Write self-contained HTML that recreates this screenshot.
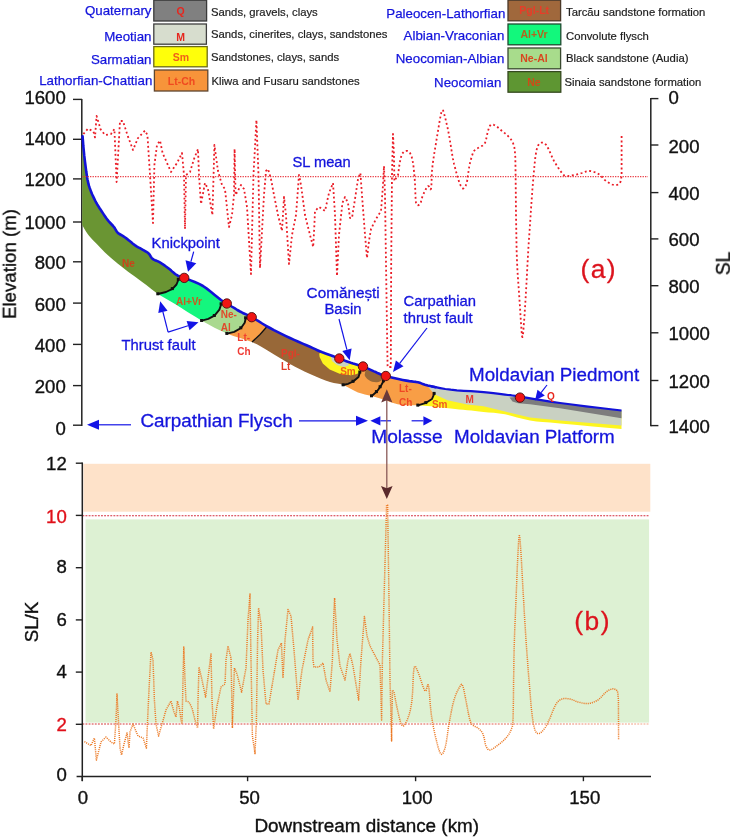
<!DOCTYPE html>
<html><head><meta charset="utf-8"><title>Figure</title>
<style>html,body{margin:0;padding:0;background:#fff}body{width:730px;height:837px;overflow:hidden;font-family:"Liberation Sans", sans-serif}svg,svg text{font-family:"Liberation Sans", sans-serif}</style>
</head><body>
<svg width="730" height="837" viewBox="0 0 730 837" style="display:block">
<defs><filter id="idf" x="0" y="0" width="730" height="837" filterUnits="userSpaceOnUse"><feOffset dx="0" dy="0"/></filter></defs><g filter="url(#idf)">
<rect width="730" height="837" fill="#fff"/>
<text x="151.5" y="15" text-anchor="end" font-size="13.3" fill="#1414dc" stroke="#1414dc" stroke-width="0.25">Quaternary</text><rect x="153.8" y="0.2" width="52.8" height="20.8" fill="#808080" stroke="#3a3a3a" stroke-width="1.3"/><text x="180.5" y="15.4" text-anchor="middle" font-size="10.5" font-weight="bold" fill="#e6261e">Q</text><text x="211" y="16" font-size="11.3" fill="#1e1e1e" stroke="#1e1e1e" stroke-width="0.2">Sands, gravels, clays</text>
<text x="151.5" y="41" text-anchor="end" font-size="13.3" fill="#1414dc" stroke="#1414dc" stroke-width="0.25">Meotian</text><rect x="153.8" y="24" width="52.6" height="20.2" fill="#d7ddce" stroke="#3f3f3f" stroke-width="1.3"/><text x="180.5" y="41.4" text-anchor="middle" font-size="10.5" font-weight="bold" fill="#e6261e">M</text><text x="211" y="38.4" font-size="11.3" fill="#1e1e1e" stroke="#1e1e1e" stroke-width="0.2">Sands, cinerites, clays, sandstones</text>
<text x="151.5" y="64" text-anchor="end" font-size="13.3" fill="#1414dc" stroke="#1414dc" stroke-width="0.25">Sarmatian</text><rect x="153.8" y="46.6" width="53.4" height="20.2" fill="#ffff0a" stroke="#6b6b18" stroke-width="1.3"/><text x="181" y="61" text-anchor="middle" font-size="10.5" font-weight="bold" fill="#f0601a">Sm</text><text x="211" y="61" font-size="11.3" fill="#1e1e1e" stroke="#1e1e1e" stroke-width="0.2">Sandstones, clays, sands</text>
<text x="152.3" y="85" text-anchor="end" font-size="13.3" fill="#1414dc" stroke="#1414dc" stroke-width="0.25">Lathorfian-Chattian</text><rect x="154.4" y="70" width="53.4" height="21" fill="#f7943a" stroke="#5e4630" stroke-width="1.3"/><text x="181.5" y="85" text-anchor="middle" font-size="10.5" font-weight="bold" fill="#f04a20">Lt-Ch</text><text x="211.5" y="85" font-size="11.3" fill="#1e1e1e" stroke="#1e1e1e" stroke-width="0.2">Kliwa and Fusaru sandstones</text>
<text x="505.3" y="17.6" text-anchor="end" font-size="13.3" fill="#1414dc" stroke="#1414dc" stroke-width="0.25">Paleocen-Lathorfian</text><rect x="508" y="0.2" width="52.6" height="20.6" fill="#a0683c" stroke="#4a3828" stroke-width="1.3"/><text x="534.2" y="13.6" text-anchor="middle" font-size="10.5" font-weight="bold" fill="#e83c28">Pgl-Lt</text><text x="566" y="16" font-size="11.3" fill="#1e1e1e" stroke="#1e1e1e" stroke-width="0.2">Tarcău sandstone formation</text>
<text x="504.4" y="40" text-anchor="end" font-size="13.3" fill="#1414dc" stroke="#1414dc" stroke-width="0.25">Albian-Vraconian</text><rect x="508" y="24" width="52.8" height="20.8" fill="#12f87c" stroke="#1e4a30" stroke-width="1.3"/><text x="534" y="38.4" text-anchor="middle" font-size="10.5" font-weight="bold" fill="#b4641e">Al+Vr</text><text x="566" y="40" font-size="11.3" fill="#1e1e1e" stroke="#1e1e1e" stroke-width="0.2">Convolute flysch</text>
<text x="504.4" y="63" text-anchor="end" font-size="13.3" fill="#1414dc" stroke="#1414dc" stroke-width="0.25">Neocomian-Albian</text><rect x="508" y="48" width="52.6" height="20.8" fill="#a8dc8c" stroke="#3a4a30" stroke-width="1.3"/><text x="534" y="62" text-anchor="middle" font-size="10.5" font-weight="bold" fill="#d84820">Ne-Al</text><text x="566" y="62.4" font-size="11.3" fill="#1e1e1e" stroke="#1e1e1e" stroke-width="0.2">Black sandstone (Audia)</text>
<text x="501.3" y="87" text-anchor="end" font-size="13.3" fill="#1414dc" stroke="#1414dc" stroke-width="0.25">Neocomian</text><rect x="508" y="71.6" width="52.8" height="20.6" fill="#5e9632" stroke="#34481e" stroke-width="1.3"/><text x="534" y="86.4" text-anchor="middle" font-size="10.5" font-weight="bold" fill="#d04a18">Ne</text><text x="564.4" y="85.6" font-size="11.3" fill="#1e1e1e" stroke="#1e1e1e" stroke-width="0.2">Sinaia sandstone formation</text>
<line x1="81.8" y1="99" x2="81.8" y2="426" stroke="#222" stroke-width="1.5"/>
<line x1="73" y1="99.4" x2="82" y2="99.4" stroke="#222" stroke-width="1.4"/>
<text x="65.8" y="103.7" text-anchor="end" font-size="18.6" fill="#111" stroke="#111" stroke-width="0.35">1600</text>
<line x1="73" y1="139.3" x2="82" y2="139.3" stroke="#222" stroke-width="1.4"/>
<text x="65.8" y="144.9" text-anchor="end" font-size="18.6" fill="#111" stroke="#111" stroke-width="0.35">1400</text>
<line x1="73" y1="178.9" x2="82" y2="178.9" stroke="#222" stroke-width="1.4"/>
<text x="65.8" y="185.8" text-anchor="end" font-size="18.6" fill="#111" stroke="#111" stroke-width="0.35">1200</text>
<line x1="73" y1="222.0" x2="82" y2="222.0" stroke="#222" stroke-width="1.4"/>
<text x="65.8" y="228.8" text-anchor="end" font-size="18.6" fill="#111" stroke="#111" stroke-width="0.35">1000</text>
<line x1="73" y1="261.8" x2="82" y2="261.8" stroke="#222" stroke-width="1.4"/>
<text x="65.8" y="269.1" text-anchor="end" font-size="18.6" fill="#111" stroke="#111" stroke-width="0.35">800</text>
<line x1="73" y1="303.1" x2="82" y2="303.1" stroke="#222" stroke-width="1.4"/>
<text x="65.8" y="311.0" text-anchor="end" font-size="18.6" fill="#111" stroke="#111" stroke-width="0.35">600</text>
<line x1="73" y1="344.4" x2="82" y2="344.4" stroke="#222" stroke-width="1.4"/>
<text x="65.8" y="352.0" text-anchor="end" font-size="18.6" fill="#111" stroke="#111" stroke-width="0.35">400</text>
<line x1="73" y1="385.6" x2="82" y2="385.6" stroke="#222" stroke-width="1.4"/>
<text x="65.8" y="392.6" text-anchor="end" font-size="18.6" fill="#111" stroke="#111" stroke-width="0.35">200</text>
<line x1="73" y1="425.2" x2="82" y2="425.2" stroke="#222" stroke-width="1.4"/>
<text x="65.8" y="435.1" text-anchor="end" font-size="18.6" fill="#111" stroke="#111" stroke-width="0.35">0</text>
<text transform="translate(15.8,264) rotate(-90)" text-anchor="middle" font-size="18.7" fill="#111" stroke="#111" stroke-width="0.35">Elevation (m)</text>
<line x1="650.8" y1="98" x2="650.8" y2="426.3" stroke="#222" stroke-width="1.5"/>
<line x1="650.8" y1="98.6" x2="658.4" y2="98.6" stroke="#222" stroke-width="1.4"/>
<text x="668.5" y="104.3" font-size="18.6" fill="#111" stroke="#111" stroke-width="0.35">0</text>
<line x1="650.8" y1="145.0" x2="658.4" y2="145.0" stroke="#222" stroke-width="1.4"/>
<text x="668.5" y="152.6" font-size="18.6" fill="#111" stroke="#111" stroke-width="0.35">200</text>
<line x1="650.8" y1="192.6" x2="658.4" y2="192.6" stroke="#222" stroke-width="1.4"/>
<text x="668.5" y="199.5" font-size="18.6" fill="#111" stroke="#111" stroke-width="0.35">400</text>
<line x1="650.8" y1="238.9" x2="658.4" y2="238.9" stroke="#222" stroke-width="1.4"/>
<text x="668.5" y="245.5" font-size="18.6" fill="#111" stroke="#111" stroke-width="0.35">600</text>
<line x1="650.8" y1="285.7" x2="658.4" y2="285.7" stroke="#222" stroke-width="1.4"/>
<text x="668.5" y="293.2" font-size="18.6" fill="#111" stroke="#111" stroke-width="0.35">800</text>
<line x1="650.8" y1="332.8" x2="658.4" y2="332.8" stroke="#222" stroke-width="1.4"/>
<text x="668.5" y="340.3" font-size="18.6" fill="#111" stroke="#111" stroke-width="0.35">1000</text>
<line x1="650.8" y1="380.5" x2="658.4" y2="380.5" stroke="#222" stroke-width="1.4"/>
<text x="668.5" y="387.5" font-size="18.6" fill="#111" stroke="#111" stroke-width="0.35">1200</text>
<line x1="650.8" y1="425.6" x2="658.4" y2="425.6" stroke="#222" stroke-width="1.4"/>
<text x="668.5" y="433.1" font-size="18.6" fill="#111" stroke="#111" stroke-width="0.35">1400</text>
<text transform="translate(729.9,263.5) rotate(-90)" text-anchor="middle" font-size="19.4" fill="#111" stroke="#111" stroke-width="0.35">SL</text>
<polygon points="82.2,136.3 82.6,136.3 82.7,138.0 82.9,140.3 83.1,143.1 83.3,146.0 83.6,149.0 83.9,152.0 84.2,155.2 84.6,158.5 85.0,161.8 85.4,165.0 85.8,168.2 86.2,171.3 86.7,174.4 87.1,177.4 87.6,180.0 88.1,182.2 88.5,184.2 89.0,185.9 89.6,187.7 90.3,189.6 91.1,191.7 92.0,194.0 93.0,196.2 94.1,198.4 95.1,200.5 96.1,202.4 97.1,204.2 98.2,205.9 99.3,207.7 100.5,209.5 101.8,211.5 103.2,213.6 104.6,215.7 106.0,217.8 107.4,219.7 108.8,221.4 110.3,223.0 111.7,224.5 113.1,226.0 114.2,227.3 115.0,228.5 115.6,229.6 116.2,230.7 116.8,231.7 117.7,232.7 118.9,233.7 120.3,234.5 121.9,235.4 123.5,236.4 125.2,237.5 127.0,238.9 129.0,240.5 131.0,242.1 132.9,243.7 134.8,245.1 136.6,246.3 138.3,247.3 140.0,248.2 141.6,249.1 143.0,249.9 144.3,250.6 145.5,251.3 146.5,251.9 147.5,252.5 148.5,253.3 149.4,254.3 150.1,255.4 150.8,256.7 151.6,257.8 152.6,258.8 153.8,259.6 155.1,260.2 156.5,260.8 158.0,261.4 159.5,262.2 161.1,263.1 162.7,264.2 164.4,265.3 166.0,266.5 167.7,267.7 169.4,269.1 171.2,270.6 172.9,272.1 174.5,273.4 175.9,274.5 177.0,275.2 177.8,275.7 178.5,276.0 179.2,276.3 180.0,276.6 180.6,276.8 181.0,276.9 181.5,276.9 182.4,277.2 184.2,277.9 184.2,277.9 184.2,277.9 178.5,279.5 176.5,284.5 172.5,288.8 166.0,292.0 158.0,294.0 158.0,294.0 154.6,291.6 151.6,289.3 148.8,287.0 146.0,284.8 143.2,282.7 140.5,280.8 137.8,278.8 134.8,276.6 131.6,274.2 128.1,271.7 124.6,269.0 121.1,266.3 117.6,263.4 114.0,260.5 110.5,257.5 107.4,254.7 104.7,252.2 102.3,249.8 100.1,247.4 97.8,245.0 95.3,242.5 92.8,239.9 90.3,237.3 88.2,234.8 86.3,232.1 84.6,229.3 83.2,226.8 82.2,225.0 82.2,225.0 82.4,161.0" fill="#6a9533"/>
<polygon points="184.2,277.9 187.0,279.0 190.7,280.4 194.8,282.0 199.1,283.9 203.0,286.0 206.8,288.6 210.8,291.7 214.7,294.9 218.2,297.8 221.0,300.0 222.8,301.3 223.8,301.9 224.5,302.3 225.4,302.7 226.8,303.5 226.8,303.5 226.8,303.5 221.3,304.0 219.4,309.6 214.5,315.7 208.3,318.8 201.8,320.7 201.8,320.7 195.0,316.6 187.9,312.2 181.0,307.8 175.0,304.0 169.9,301.0 165.6,298.5 161.7,296.3 158.0,294.0 158.0,294.0 166.0,292.0 172.5,288.8 176.5,284.5 178.5,279.5 184.2,277.9" fill="#14f67e"/>
<polygon points="226.8,303.5 229.0,304.8 231.6,306.5 234.5,308.2 237.3,310.0 240.0,311.5 242.3,312.7 244.5,313.7 246.6,314.7 249.0,315.8 251.7,317.2 251.7,317.2 251.7,317.2 245.8,318.0 244.7,322.8 241.0,328.0 234.2,331.8 227.0,333.6 227.0,333.6 220.8,330.8 214.5,327.7 208.2,324.3 201.8,320.7 201.8,320.7 208.3,318.8 214.5,315.7 219.4,309.6 221.3,304.0 226.8,303.5" fill="#a9d98f"/>
<polygon points="251.7,317.2 254.9,319.0 258.5,321.2 262.2,323.5 266.1,325.8 266.8,326.2 266.8,326.8 260.0,334.5 252.0,342.0 252.0,342.0 246.2,339.9 239.9,338.0 233.4,336.0 227.0,333.6 227.0,333.6 234.2,331.8 241.0,328.0 244.7,322.8 245.8,318.0 251.7,317.2" fill="#f89e46"/>
<polygon points="266.8,326.2 270.0,328.0 273.9,330.1 277.9,332.1 281.9,334.1 286.0,336.1 290.0,338.0 294.1,339.9 298.4,341.8 302.6,343.6 306.5,345.3 310.0,346.8 312.9,348.1 315.2,349.2 317.4,350.2 319.7,351.2 322.3,352.3 325.5,353.5 329.0,354.8 332.7,356.1 336.2,357.4 339.3,358.5 341.9,359.5 344.2,360.4 346.3,361.2 348.5,362.0 350.7,362.8 353.1,363.6 355.6,364.3 358.1,365.0 360.6,365.7 363.0,366.5 363.0,366.5 363.0,366.5 360.0,372.2 358.5,377.0 353.2,381.5 348.0,383.8 343.3,385.0 343.3,385.0 340.0,384.1 337.0,383.5 333.8,383.0 330.0,382.0 325.5,380.4 320.4,378.4 315.2,376.3 310.0,374.0 305.0,371.7 300.0,369.2 295.0,366.7 290.0,364.0 285.0,361.1 279.9,358.0 274.9,354.9 270.0,352.0 265.5,349.3 261.3,346.8 256.9,344.3 252.0,342.0 252.0,342.0 260.0,334.5 266.8,326.8" fill="#986838"/>
<polygon points="363.0,366.5 365.3,367.4 367.5,368.4 369.6,369.4 371.8,370.4 374.0,371.4 376.2,372.3 378.2,373.3 380.4,374.2 382.9,375.1 385.8,376.0 385.8,376.0 385.8,376.0 383.6,381.0 380.3,386.9 376.6,391.8 371.7,396.0 371.7,396.0 368.3,395.2 364.9,394.5 361.5,393.6 358.0,392.5 354.4,390.8 350.6,388.7 346.9,386.7 343.3,385.0 343.3,385.0 348.0,383.8 353.2,381.5 358.5,377.0 360.0,372.2 363.0,366.5" fill="#f89e46"/>
<polygon points="385.8,376.0 389.5,377.0 393.8,378.0 398.4,379.0 402.7,379.9 406.4,380.6 409.3,381.1 411.7,381.4 413.9,381.7 415.9,381.9 417.9,382.3 419.8,382.8 421.3,383.4 422.9,384.1 424.9,384.8 427.7,385.5 431.3,386.3 434.3,386.9 434.3,393.6 434.3,393.6 432.0,399.0 426.0,402.8 418.0,405.3 418.0,405.3 415.0,405.3 412.1,405.3 409.3,405.4 406.4,405.3 403.5,405.0 400.6,404.7 397.7,404.2 395.0,403.6 392.5,402.8 390.1,401.9 387.7,401.0 385.0,400.0 381.9,399.0 378.6,398.0 375.1,397.0 371.7,396.0 371.7,396.0 376.6,391.8 380.3,386.9 383.6,381.0 385.8,376.0" fill="#f89e46"/>
<polygon points="319.2,353.4 322.3,352.3 325.5,353.5 329.0,354.8 332.7,356.1 336.2,357.4 339.3,358.5 341.9,359.5 344.2,360.4 346.3,361.2 348.5,362.0 350.7,362.8 353.1,363.6 355.6,364.3 358.1,365.0 360.6,365.7 361.5,366.2 360.0,372.5 356.0,374.3 350.7,375.3 339.6,373.8 329.7,369.5 322.8,363.4 319.6,357.0" fill="#fdf51e"/>
<polygon points="330.5,355.6 339.3,358.5 347.5,361.8 349.0,365.2 344.0,367.0 337.0,365.0 332.0,361.0" fill="#c9d1c2"/>
<path d="M365.5,370.5 C368,368.8 372,370 376,371.8 L383.5,375.5 C384,378.5 381,381.8 377,382.2 C371,382.6 366,379 364.6,375 Z" fill="#986838"/>
<polygon points="427.0,385.3 427.7,385.5 431.3,386.3 435.5,387.2 440.2,388.1 445.3,389.0 450.8,389.7 456.9,390.3 463.8,390.8 470.8,391.2 477.6,391.6 483.6,392.1 488.7,392.6 493.3,393.1 497.4,393.6 501.3,394.1 505.0,394.6 508.0,395.0 510.3,395.2 512.5,395.5 515.5,395.9 520.0,396.6 526.1,397.6 533.2,398.8 541.3,400.1 550.2,401.6 560.0,403.0 571.9,404.5 586.0,406.3 600.3,408.0 612.8,409.5 621.5,410.5 621.5,429.0 609.7,428.0 592.6,426.4 574.6,424.8 560.0,423.5 550.2,422.6 542.7,422.0 536.4,421.4 530.0,420.5 523.3,419.1 517.0,417.4 510.9,415.7 505.0,414.3 499.3,413.4 493.8,412.8 488.5,412.4 483.6,411.9 479.1,411.4 475.1,411.0 471.2,410.6 467.2,410.2 463.2,409.8 459.2,409.4 455.1,409.0 450.8,408.6 445.9,408.0 440.7,407.4 435.6,406.8 431.0,406.3 427.2,405.9 424.0,405.7 421.0,405.4 418.0,405.3 426.0,402.8 432.0,399.0 434.3,393.6" fill="#fdf51e"/>
<polygon points="427.0,385.3 427.7,385.5 431.3,386.3 435.5,387.2 440.2,388.1 445.3,389.0 450.8,389.7 456.9,390.3 463.8,390.8 470.8,391.2 477.6,391.6 483.6,392.1 488.7,392.6 493.3,393.1 497.4,393.6 501.3,394.1 505.0,394.6 508.0,395.0 510.3,395.2 512.5,395.5 515.5,395.9 520.0,396.6 526.1,397.6 533.2,398.8 541.3,400.1 550.2,401.6 560.0,403.0 571.9,404.5 586.0,406.3 600.3,408.0 612.8,409.5 621.5,410.5 621.5,425.6 560.0,420.6 530.0,417.5 510.0,412.8 483.6,406.3 467.2,404.5 447.5,400.3 434.3,394.2" fill="#c9d1c2"/>
<polygon points="509.5,397.5 520.0,396.6 560.0,403.0 621.5,410.5 621.5,418.3 560.0,408.3 530.0,404.3 518.0,403.3 512.5,401.5" fill="#7d7d7d"/>
<path d="M178.5,279.5 L176.5,284.5 L172.5,288.8 L166.0,292.0 L158.0,294.0" fill="none" stroke="#111" stroke-width="1.9" stroke-linejoin="round" stroke-linecap="round"/><rect x="176.8" y="277.8" width="3" height="3" fill="#111"/><rect x="170.8" y="287.1" width="3" height="3" fill="#111"/><rect x="156.3" y="292.3" width="3" height="3" fill="#111"/><path d="M221.3,304.0 L219.4,309.6 L214.5,315.7 L208.3,318.8 L201.8,320.7" fill="none" stroke="#111" stroke-width="1.9" stroke-linejoin="round" stroke-linecap="round"/><rect x="219.6" y="302.3" width="3" height="3" fill="#111"/><rect x="212.8" y="314.0" width="3" height="3" fill="#111"/><rect x="200.1" y="319.0" width="3" height="3" fill="#111"/><path d="M245.8,318.0 L244.7,322.8 L241.0,328.0 L234.2,331.8 L227.0,333.6" fill="none" stroke="#111" stroke-width="1.9" stroke-linejoin="round" stroke-linecap="round"/><rect x="244.1" y="316.3" width="3" height="3" fill="#111"/><rect x="239.3" y="326.3" width="3" height="3" fill="#111"/><rect x="225.3" y="331.9" width="3" height="3" fill="#111"/><path d="M360.0,372.2 L358.5,377.0 L353.2,381.5 L348.0,383.8 L343.3,385.0" fill="none" stroke="#111" stroke-width="1.9" stroke-linejoin="round" stroke-linecap="round"/><rect x="358.3" y="370.5" width="3" height="3" fill="#111"/><rect x="351.5" y="379.8" width="3" height="3" fill="#111"/><rect x="341.6" y="383.3" width="3" height="3" fill="#111"/><path d="M383.6,381.0 L380.3,386.9 L376.6,391.8 L371.7,396.0" fill="none" stroke="#111" stroke-width="1.9" stroke-linejoin="round" stroke-linecap="round"/><rect x="381.9" y="379.3" width="3" height="3" fill="#111"/><rect x="378.6" y="385.2" width="3" height="3" fill="#111"/><rect x="374.9" y="390.1" width="3" height="3" fill="#111"/><rect x="370.0" y="394.3" width="3" height="3" fill="#111"/><path d="M434.3,393.6 L432.0,399.0 L426.0,402.8 L418.0,405.3" fill="none" stroke="#111" stroke-width="1.9" stroke-linejoin="round" stroke-linecap="round"/><rect x="432.6" y="391.9" width="3" height="3" fill="#111"/><rect x="424.3" y="401.1" width="3" height="3" fill="#111"/><rect x="416.3" y="403.6" width="3" height="3" fill="#111"/><path d="M266.8,326.8 L260.0,334.5 L252.0,342.0" fill="none" stroke="#111" stroke-width="1.3"/>
<polyline points="431.3,386.3 435.5,387.2 440.2,388.1 445.3,389.0 450.8,389.7 456.9,390.3 463.8,390.8 470.8,391.2 477.6,391.6 483.6,392.1 488.7,392.6 493.3,393.1 497.4,393.6 501.3,394.1 505.0,394.6 508.0,395.0 510.3,395.2 512.5,395.5 515.5,395.9 520.0,396.6 526.1,397.6 533.2,398.8 541.3,400.1 550.2,401.6 560.0,403.0 571.9,404.5 586.0,406.3 600.3,408.0 612.8,409.5 621.5,410.5" fill="none" stroke="#1212d8" stroke-width="2.2" stroke-linejoin="round" stroke-linecap="butt"/>
<polyline points="82.6,136.3 82.7,138.0 82.9,140.3 83.1,143.1 83.3,146.0 83.6,149.0 83.9,152.0 84.2,155.2 84.6,158.5 85.0,161.8 85.4,165.0 85.8,168.2 86.2,171.3 86.7,174.4 87.1,177.4 87.6,180.0 88.1,182.2 88.5,184.2 89.0,185.9 89.6,187.7 90.3,189.6 91.1,191.7 92.0,194.0 93.0,196.2 94.1,198.4 95.1,200.5 96.1,202.4 97.1,204.2 98.2,205.9 99.3,207.7 100.5,209.5 101.8,211.5 103.2,213.6 104.6,215.7 106.0,217.8 107.4,219.7 108.8,221.4 110.3,223.0 111.7,224.5 113.1,226.0 114.2,227.3 115.0,228.5 115.6,229.6 116.2,230.7 116.8,231.7 117.7,232.7 118.9,233.7 120.3,234.5 121.9,235.4 123.5,236.4 125.2,237.5 127.0,238.9 129.0,240.5 131.0,242.1 132.9,243.7 134.8,245.1 136.6,246.3 138.3,247.3 140.0,248.2 141.6,249.1 143.0,249.9 144.3,250.6 145.5,251.3 146.5,251.9 147.5,252.5 148.5,253.3 149.4,254.3 150.1,255.4 150.8,256.7 151.6,257.8 152.6,258.8 153.8,259.6 155.1,260.2 156.5,260.8 158.0,261.4 159.5,262.2 161.1,263.1 162.7,264.2 164.4,265.3 166.0,266.5 167.7,267.7 169.4,269.1 171.2,270.6 172.9,272.1 174.5,273.4 175.9,274.5 177.0,275.2 177.8,275.7 178.5,276.0 179.2,276.3 180.0,276.6 180.6,276.8 181.0,276.9 181.5,276.9 182.4,277.2 184.2,277.9 187.0,279.0 190.7,280.4 194.8,282.0 199.1,283.9 203.0,286.0 206.8,288.6 210.8,291.7 214.7,294.9 218.2,297.8 221.0,300.0 222.8,301.3 223.8,301.9 224.5,302.3 225.4,302.7 226.8,303.5 229.0,304.8 231.6,306.5 234.5,308.2 237.3,310.0 240.0,311.5 242.3,312.7 244.5,313.7 246.6,314.7 249.0,315.8 251.7,317.2 254.9,319.0 258.5,321.2 262.2,323.5 266.1,325.8 270.0,328.0 273.9,330.1 277.9,332.1 281.9,334.1 286.0,336.1 290.0,338.0 294.1,339.9 298.4,341.8 302.6,343.6 306.5,345.3 310.0,346.8 312.9,348.1 315.2,349.2 317.4,350.2 319.7,351.2 322.3,352.3 325.5,353.5 329.0,354.8 332.7,356.1 336.2,357.4 339.3,358.5 341.9,359.5 344.2,360.4 346.3,361.2 348.5,362.0 350.7,362.8 353.1,363.6 355.6,364.3 358.1,365.0 360.6,365.7 363.0,366.5 365.3,367.4 367.5,368.4 369.6,369.4 371.8,370.4 374.0,371.4 376.2,372.3 378.2,373.3 380.4,374.2 382.9,375.1 385.8,376.0 389.5,377.0 393.8,378.0 398.4,379.0 402.7,379.9 406.4,380.6 409.3,381.1 411.7,381.4 413.9,381.7 415.9,381.9 417.9,382.3 419.8,382.8 421.3,383.4 422.9,384.1 424.9,384.8 427.7,385.5 431.3,386.3 435.5,387.2" fill="none" stroke="#1212d8" stroke-width="2.6" stroke-linejoin="round" stroke-linecap="round"/>
<line x1="82.6" y1="176.6" x2="648" y2="176.6" stroke="#e83038" stroke-width="1.2" stroke-dasharray="1.2,1.3"/>
<polyline points="83.4,134.0 88.0,128.6 93.4,131.4 95.0,137.4 96.6,116.0 100.6,129.4 105.0,135.0 111.0,134.0 114.4,129.0 116.6,182.0 120.0,121.0 123.0,121.0 127.4,135.0 133.0,150.0 138.0,138.0 145.0,130.6 147.4,135.0 150.0,175.0 153.0,223.0 154.4,165.0 157.0,145.0 160.0,140.6 162.6,153.0 167.0,163.0 171.0,172.0 177.0,163.0 182.0,153.0 184.0,175.0 185.0,229.0 186.0,175.0 190.0,172.0 194.0,159.0 198.0,149.0 199.0,175.0 201.0,204.0 205.0,183.0 208.0,189.0 212.4,215.0 213.6,175.0 214.4,145.0 218.0,171.0 222.0,185.0 225.0,189.0 229.0,227.0 232.0,215.0 234.0,195.0 234.6,149.0 235.6,195.0 241.0,185.0 244.0,189.0 247.0,207.0 251.0,274.0 253.5,175.0 256.4,120.0 258.5,175.0 260.0,268.0 264.0,195.0 266.0,171.0 268.0,169.0 271.0,179.0 274.0,195.0 278.0,215.0 282.0,231.0 284.0,197.0 286.0,215.0 289.0,264.0 292.0,235.0 296.0,215.0 299.0,175.0 301.0,185.0 305.0,215.0 310.0,235.0 313.2,247.0 314.4,225.0 315.0,211.0 319.0,207.0 325.0,211.0 329.0,193.0 333.0,183.0 335.0,215.0 337.0,276.0 339.0,235.0 342.4,203.0 345.0,197.0 348.0,203.0 350.0,218.0 352.0,218.0 355.0,199.0 358.0,179.0 360.4,173.0 362.0,195.0 365.0,235.0 367.0,258.0 369.0,241.0 371.0,229.0 376.0,219.0 381.0,211.0 383.0,185.0 384.0,166.0 385.0,195.0 386.0,262.0 387.6,367.0 390.8,367.0 391.2,262.0 392.0,175.0 393.0,134.0 394.0,155.0 394.4,181.0 398.0,175.0 398.5,171.5 399.2,166.4 400.1,161.1 401.0,157.0 401.9,154.5 402.9,152.8 403.9,151.7 405.0,151.0 406.2,150.8 407.6,151.0 408.9,151.8 410.0,153.0 410.9,154.7 411.7,156.9 412.4,159.6 413.0,163.0 413.6,167.3 414.1,172.4 414.6,177.8 415.0,183.0 415.2,188.4 415.4,194.2 415.6,199.3 416.0,203.0 416.8,204.8 417.9,205.3 419.0,204.9 420.0,204.0 420.8,202.5 421.4,200.1 422.1,197.5 423.0,195.0 424.2,192.5 425.5,189.8 426.8,187.4 428.0,186.0 428.9,186.4 429.8,188.1 430.4,189.4 431.0,189.0 431.4,185.9 431.6,181.2 431.7,175.9 432.0,171.0 432.4,166.8 432.9,162.6 433.5,158.7 434.0,155.0 434.5,152.0 434.9,149.5 435.4,146.8 436.0,143.0 436.9,137.5 438.0,130.8 439.1,124.2 440.0,119.0 440.7,115.3 441.3,112.6 441.8,110.8 442.4,110.0 443.0,110.4 443.6,111.8 444.2,114.1 445.0,117.0 445.9,120.6 446.9,124.9 448.0,129.8 449.0,135.0 450.0,140.8 451.0,147.1 452.0,153.4 453.0,159.0 454.0,163.7 455.1,167.9 456.1,171.7 457.0,175.0 457.8,177.8 458.6,180.2 459.3,182.2 460.0,184.0 460.7,185.7 461.5,187.1 462.2,188.2 463.0,188.6 463.9,188.2 464.8,187.1 465.7,185.7 466.4,184.0 466.9,182.1 467.3,180.0 467.6,177.6 468.0,175.0 468.4,172.2 468.9,169.2 469.3,166.1 470.0,163.0 470.8,159.8 471.8,156.5 472.8,153.4 474.0,151.0 475.4,149.4 476.9,148.5 478.5,147.8 480.0,147.0 481.4,146.2 482.7,145.5 483.9,144.6 485.0,143.0 485.9,140.4 486.6,137.2 487.3,133.8 488.0,131.0 488.7,128.8 489.4,127.0 490.1,125.5 491.0,124.6 492.1,124.3 493.3,124.6 494.6,125.2 496.0,126.0 497.4,127.0 498.9,128.3 500.5,129.7 502.0,131.0 503.5,132.2 505.1,133.4 506.6,134.6 508.0,136.0 509.4,137.5 510.8,139.2 512.0,141.0 513.0,143.0 513.7,145.0 514.3,147.1 514.7,149.6 515.0,153.0 515.3,157.2 515.4,162.1 515.5,168.0 515.6,175.0 515.7,183.6 515.8,193.5 515.9,204.2 516.0,215.0 516.2,226.2 516.4,238.1 516.6,249.9 517.0,261.0 517.5,271.5 518.2,281.5 518.9,291.0 519.5,300.0 520.1,308.7 520.6,317.0 521.1,324.3 521.5,330.0 521.8,333.7 522.0,335.8 522.2,336.8 522.4,337.0 522.6,336.8 522.8,335.8 523.1,333.7 523.4,330.0 523.8,324.5 524.4,317.4 524.9,309.1 525.5,300.0 526.1,289.5 526.8,277.5 527.4,265.5 528.0,255.0 528.5,246.4 529.0,239.1 529.5,232.1 530.0,225.0 530.5,217.3 531.0,209.4 531.5,201.8 532.0,195.0 532.4,189.3 532.8,184.5 533.2,179.9 533.6,175.0 534.1,169.3 534.7,163.3 535.3,157.6 536.0,153.0 536.7,149.6 537.3,147.2 538.1,145.4 539.0,144.0 540.1,143.0 541.4,142.6 542.8,142.6 544.0,143.0 545.0,143.6 545.9,144.6 546.9,146.0 548.0,148.0 549.3,150.7 550.8,154.1 552.3,157.6 554.0,161.0 556.0,164.3 558.1,167.6 560.2,170.7 562.0,173.0 563.2,174.5 564.0,175.3 564.8,175.7 566.0,176.0 567.7,176.1 569.8,175.8 571.9,175.4 574.0,175.0 576.0,174.6 578.1,174.1 580.1,173.5 582.0,173.0 583.6,172.4 585.1,171.8 586.5,171.3 588.0,171.0 589.5,171.0 591.0,171.2 592.5,171.5 594.0,172.0 595.5,172.5 597.0,173.2 598.5,174.0 600.0,175.0 601.5,176.3 602.9,177.9 604.4,179.6 606.0,181.0 607.9,182.3 610.0,183.5 612.1,184.5 614.0,185.0 615.7,185.1 617.4,184.8 618.9,184.1 620.0,183.0 620.7,181.2 621.2,178.9 621.4,176.6 621.6,175.0 621.6,135.0" fill="none" stroke="#ea1c26" stroke-width="1.8" stroke-dasharray="1.9,2.6" stroke-linejoin="round"/>
<circle cx="184.2" cy="277.9" r="4.7" fill="#f01414" stroke="#4a1010" stroke-width="0.9"/><circle cx="226.8" cy="303.5" r="4.7" fill="#f01414" stroke="#4a1010" stroke-width="0.9"/><circle cx="251.7" cy="317.2" r="4.7" fill="#f01414" stroke="#4a1010" stroke-width="0.9"/><circle cx="339.3" cy="358.5" r="4.7" fill="#f01414" stroke="#4a1010" stroke-width="0.9"/><circle cx="363" cy="366.5" r="4.7" fill="#f01414" stroke="#4a1010" stroke-width="0.9"/><circle cx="385.8" cy="376" r="4.7" fill="#f01414" stroke="#4a1010" stroke-width="0.9"/><circle cx="520" cy="397.6" r="4.7" fill="#f01414" stroke="#4a1010" stroke-width="0.9"/>
<text x="122" y="266.5" font-size="10" font-weight="bold" fill="#cc421a" text-anchor="start">Ne</text>
<text x="176" y="305" font-size="10" font-weight="bold" fill="#cc5a1e" text-anchor="start">Al+Vr</text>
<text x="220.7" y="317.6" font-size="10" font-weight="bold" fill="#e04a2c" text-anchor="start">Ne-</text>
<text x="220.7" y="331.1" font-size="10" font-weight="bold" fill="#e04a2c" text-anchor="start">Al</text>
<text x="237.3" y="341" font-size="10" font-weight="bold" fill="#f04030" text-anchor="start">Lt-</text>
<text x="237.3" y="354.9" font-size="10" font-weight="bold" fill="#f03a34" text-anchor="start">Ch</text>
<text x="281" y="357" font-size="10" font-weight="bold" fill="#e23c28" text-anchor="start">Pgl-</text>
<text x="281" y="369.8" font-size="10" font-weight="bold" fill="#e23c28" text-anchor="start">Lt</text>
<text x="340.2" y="375.1" font-size="10" font-weight="bold" fill="#f0601a" text-anchor="start">Sm</text>
<text x="399" y="391.8" font-size="10" font-weight="bold" fill="#f04824" text-anchor="start">Lt-</text>
<text x="399" y="405.5" font-size="10" font-weight="bold" fill="#f04824" text-anchor="start">Ch</text>
<text x="431.9" y="408" font-size="10" font-weight="bold" fill="#f05a20" text-anchor="start">Sm</text>
<text x="465.5" y="402.5" font-size="10" font-weight="bold" fill="#e83c30" text-anchor="start">M</text>
<text x="547" y="399.6" font-size="10" font-weight="bold" fill="#e8281e" text-anchor="start">Q</text>
<text x="292.4" y="166.6" font-size="14.7" fill="#1414dc" stroke="#1414dc" stroke-width="0.3" text-anchor="start">SL mean</text>
<text x="151.6" y="248.3" font-size="14.8" fill="#1414dc" stroke="#1414dc" stroke-width="0.3" text-anchor="start">Knickpoint</text>
<text x="121.5" y="350" font-size="14.8" fill="#1414dc" stroke="#1414dc" stroke-width="0.3" text-anchor="start">Thrust fault</text>
<text x="306.6" y="298" font-size="15.3" fill="#1414dc" stroke="#1414dc" stroke-width="0.3" text-anchor="start">Comănești</text>
<text x="324.4" y="314.4" font-size="14.9" fill="#1414dc" stroke="#1414dc" stroke-width="0.3" text-anchor="start">Basin</text>
<text x="403.6" y="306" font-size="14.8" fill="#1414dc" stroke="#1414dc" stroke-width="0.3" text-anchor="start">Carpathian</text>
<text x="403.6" y="323" font-size="14.8" fill="#1414dc" stroke="#1414dc" stroke-width="0.3" text-anchor="start">thrust fault</text>
<text x="469" y="381" font-size="18.8" fill="#1414dc" stroke="#1414dc" stroke-width="0.3" text-anchor="start">Moldavian Piedmont</text>
<text x="140.4" y="427.4" font-size="18.9" fill="#1414dc" stroke="#1414dc" stroke-width="0.3" text-anchor="start">Carpathian Flysch</text>
<text x="371.2" y="443" font-size="19.2" fill="#1414dc" stroke="#1414dc" stroke-width="0.3" text-anchor="start">Molasse</text>
<text x="454" y="442.5" font-size="18.8" fill="#1414dc" stroke="#1414dc" stroke-width="0.3" text-anchor="start">Moldavian Platform</text>
<text x="580.6" y="277.8" font-size="26.4" letter-spacing="1.3" fill="#dc141e" stroke="#dc141e" stroke-width="0.3">(a)</text>
<line x1="193.7" y1="251.7" x2="190.9" y2="261.7" stroke="#1414e6" stroke-width="1.2"/><polygon points="188.0,271.8 185.5,260.2 196.3,263.2" fill="#1414e6"/>
<line x1="168.1" y1="332.1" x2="162.9" y2="311.9" stroke="#1414e6" stroke-width="1.2"/><polygon points="160.2,301.2 167.6,310.7 158.3,313.0" fill="#1414e6"/>
<line x1="168.1" y1="332.1" x2="188.0" y2="325.7" stroke="#1414e6" stroke-width="1.2"/><polygon points="198.5,322.3 189.5,330.2 186.6,321.1" fill="#1414e6"/>
<line x1="339.0" y1="319.0" x2="346.9" y2="349.7" stroke="#1414e6" stroke-width="1.2"/><polygon points="349.7,360.3 342.3,350.9 351.6,348.4" fill="#1414e6"/>
<line x1="427.0" y1="328.0" x2="399.7" y2="363.3" stroke="#1414e6" stroke-width="1.2"/><polygon points="393.0,372.0 395.9,360.4 403.5,366.2" fill="#1414e6"/>
<line x1="547.0" y1="385.0" x2="541.1" y2="392.6" stroke="#1414e6" stroke-width="1.2"/><polygon points="535.0,400.5 537.5,389.8 544.8,395.4" fill="#1414e6"/>
<line x1="131.0" y1="424.8" x2="99.0" y2="424.8" stroke="#1414e6" stroke-width="1.2"/><polygon points="87.0,424.8 99.0,419.8 99.0,429.8" fill="#1414e6"/>
<line x1="299.0" y1="420.8" x2="356.0" y2="420.8" stroke="#1414e6" stroke-width="1.2"/><polygon points="368.0,420.8 356.0,425.8 356.0,415.8" fill="#1414e6"/>
<line x1="391.0" y1="420.8" x2="380.4" y2="420.8" stroke="#1414e6" stroke-width="1.2"/><polygon points="370.4,420.8 380.4,416.2 380.4,425.4" fill="#1414e6"/>
<line x1="411.6" y1="420.8" x2="423.4" y2="420.8" stroke="#1414e6" stroke-width="1.2"/><polygon points="432.4,420.8 423.4,425.4 423.4,416.2" fill="#1414e6"/>
<rect x="83.4" y="463.8" width="566.9" height="47.9" fill="#fee2c9"/>
<rect x="85.5" y="519.4" width="563.6" height="203.2" fill="#ddf1d3"/>
<line x1="82.4" y1="515.7" x2="649.5" y2="515.7" stroke="#d42c3c" stroke-width="1.15" stroke-dasharray="1.9,1.2"/>
<line x1="386.8" y1="398" x2="386.8" y2="489" stroke="#8a5a58" stroke-width="1.3"/>
<polygon points="386.8,389.3 392.4,402.5 386.8,400.3 381.2,402.5" fill="#6a3a3a"/>
<polygon points="386.8,499 392.6,486 386.8,488.2 381,486" fill="#5a2a2c"/>
<defs><linearGradient id="g2" gradientUnits="userSpaceOnUse" x1="82" y1="0" x2="650" y2="0"><stop offset="0" stop-color="#d23434"/><stop offset="0.7" stop-color="#de5a48"/><stop offset="1" stop-color="#f2a888"/></linearGradient></defs>
<line x1="82.4" y1="724" x2="649.5" y2="724.01" stroke="url(#g2)" stroke-width="1.2" stroke-dasharray="1.9,1.2"/>
<polyline points="84.4,741.6 91.0,745.6 94.4,738.0 96.4,760.0 101.0,742.0 106.0,737.0 111.0,742.0 114.4,744.0 116.0,720.0 117.0,694.0 118.4,720.0 120.0,748.0 121.6,755.0 124.0,744.0 127.0,733.0 129.0,748.0 130.0,732.0 133.0,724.0 138.0,736.0 143.0,738.0 146.4,748.0 147.6,720.0 149.0,690.0 151.0,652.0 153.0,660.0 154.4,700.0 156.0,724.0 158.6,736.0 162.0,724.0 166.0,710.0 171.0,701.0 174.0,712.0 176.0,717.0 177.4,701.0 179.4,708.0 181.0,720.0 182.0,724.0 183.0,680.0 183.8,647.0 185.0,680.0 186.0,701.0 189.0,702.0 192.0,708.0 195.0,720.0 197.6,728.0 198.0,700.0 199.0,667.0 202.0,680.0 205.6,697.0 209.0,670.0 211.0,654.0 212.0,700.0 213.6,729.0 217.0,706.0 221.0,687.0 225.0,684.0 226.0,660.0 228.0,646.0 231.0,658.0 232.4,728.0 234.4,668.0 237.0,674.0 241.6,692.0 246.0,668.0 248.0,620.0 250.0,594.0 251.0,660.0 252.4,736.0 255.0,753.6 256.4,720.0 257.6,640.0 258.6,608.0 261.0,624.0 263.0,670.0 266.0,704.0 269.0,704.0 273.0,680.0 278.0,650.0 281.4,643.0 283.0,678.0 285.0,640.0 288.0,609.6 291.0,616.0 294.0,650.0 298.0,700.0 302.0,670.0 308.0,640.0 312.6,627.0 313.0,660.0 314.0,667.0 319.0,667.0 323.0,663.0 326.0,680.0 330.0,692.0 332.4,660.0 334.0,610.0 334.6,598.0 337.0,640.0 340.0,666.0 345.0,680.0 348.0,660.0 350.0,653.6 353.0,666.0 358.6,700.0 361.0,660.0 364.4,616.4 367.0,636.0 370.0,646.0 380.0,665.0 381.6,720.0 382.4,660.0 384.0,600.0 386.6,505.0 387.6,505.0 389.0,600.0 390.0,680.0 391.6,741.0 392.4,690.0 394.0,692.0 394.7,695.7 395.7,701.1 396.9,707.0 398.0,712.0 399.0,716.4 400.1,720.8 401.2,724.2 402.4,726.0 403.8,725.8 405.2,724.0 406.7,721.2 408.0,718.0 409.2,714.5 410.2,710.5 411.2,705.7 412.0,700.0 412.6,692.1 413.0,682.6 413.4,673.8 414.0,668.0 414.8,666.1 415.7,666.8 416.7,669.1 418.0,672.0 419.6,676.3 421.5,682.1 423.4,687.7 425.0,691.0 426.1,690.5 427.0,687.5 427.7,684.8 428.4,685.0 429.1,689.6 429.7,697.0 430.3,705.1 431.0,712.0 431.7,717.1 432.4,721.4 433.1,725.6 434.0,730.0 435.1,735.2 436.5,740.9 437.8,746.1 439.0,750.0 440.0,752.5 440.8,753.9 441.6,754.4 442.4,754.0 443.3,752.7 444.2,750.5 445.1,747.5 446.0,744.0 446.7,739.8 447.4,734.9 448.1,729.5 449.0,724.0 450.1,718.0 451.3,711.6 452.6,705.4 454.0,700.0 455.5,695.5 457.1,691.7 458.7,688.6 460.0,686.4 460.9,685.0 461.6,684.3 462.2,684.7 463.0,686.4 463.9,690.0 464.9,695.1 466.0,700.8 467.0,706.0 467.9,710.7 468.8,715.4 469.8,719.7 471.0,723.0 472.6,725.1 474.4,726.2 476.3,727.0 478.0,728.0 479.4,729.3 480.8,730.6 481.9,732.1 483.0,734.0 483.9,736.8 484.6,740.1 485.2,743.4 486.0,746.0 486.8,747.8 487.7,749.1 488.7,749.8 490.0,750.0 491.7,749.4 493.8,748.2 495.9,746.6 498.0,745.0 500.1,743.4 502.2,741.7 504.2,739.9 506.0,738.0 507.5,736.1 508.9,734.2 510.0,732.2 511.0,730.0 511.7,728.3 512.3,727.0 512.7,724.7 513.0,720.0 513.2,712.1 513.4,701.9 513.5,690.7 513.6,680.0 513.8,670.0 513.9,660.0 514.1,650.0 514.4,640.0 514.7,630.5 515.1,621.2 515.5,611.4 516.0,600.0 516.6,584.9 517.3,567.1 518.1,550.8 518.7,540.0 519.2,535.7 519.6,535.9 520.0,539.6 520.5,546.0 521.2,556.5 522.0,570.9 522.8,586.4 523.6,600.0 524.2,611.0 524.8,620.9 525.4,630.3 526.0,640.0 526.7,650.1 527.5,660.4 528.2,670.4 529.0,680.0 529.8,689.3 530.5,698.5 531.2,706.9 532.0,714.0 532.7,719.6 533.4,723.9 534.2,727.3 535.0,730.0 535.9,732.0 536.8,733.2 537.8,733.6 539.0,733.6 540.4,733.0 541.9,731.7 543.5,729.9 545.0,728.0 546.3,725.9 547.5,723.5 548.7,720.9 550.0,718.0 551.4,714.6 552.9,710.7 554.5,707.0 556.0,704.0 557.5,702.0 558.9,700.6 560.4,699.7 562.0,699.0 563.9,698.6 565.9,698.5 568.0,698.7 570.0,699.0 572.0,699.6 573.9,700.4 575.9,701.3 578.0,702.0 580.4,702.6 582.9,703.2 585.5,703.6 588.0,703.6 590.5,703.2 593.1,702.4 595.6,701.3 598.0,700.0 600.2,698.2 602.2,696.0 604.2,693.8 606.0,692.0 607.7,690.8 609.3,690.0 610.7,689.4 612.0,689.0 613.1,688.8 614.0,688.9 614.8,689.2 615.5,689.5 616.2,689.9 616.7,690.3 617.2,690.9 617.6,692.0 617.9,693.8 618.1,696.2 618.3,698.4 618.4,700.0 618.6,740.0" fill="none" stroke="#ec7a26" stroke-width="1.5" stroke-dasharray="1.1,1.0" stroke-linejoin="round"/>
<line x1="82.3" y1="462.6" x2="82.3" y2="781" stroke="#222" stroke-width="1.5"/>
<line x1="76.6" y1="776.5" x2="651" y2="776.5" stroke="#222" stroke-width="1.5"/>
<line x1="75.8" y1="463.2" x2="82.4" y2="463.2" stroke="#222" stroke-width="1.4"/>
<text x="66.8" y="470.2" text-anchor="end" font-size="18.6" fill="#111" stroke="#111" stroke-width="0.35">12</text>
<line x1="75.8" y1="515.4" x2="82.4" y2="515.4" stroke="#222" stroke-width="1.4"/>
<text x="66.8" y="523.0" text-anchor="end" font-size="18.6" fill="#e0101a" stroke="#e0101a" stroke-width="0.35">10</text>
<line x1="75.8" y1="567.7" x2="82.4" y2="567.7" stroke="#222" stroke-width="1.4"/>
<text x="66.8" y="573.3" text-anchor="end" font-size="18.6" fill="#111" stroke="#111" stroke-width="0.35">8</text>
<line x1="75.8" y1="619.9" x2="82.4" y2="619.9" stroke="#222" stroke-width="1.4"/>
<text x="66.8" y="625.8" text-anchor="end" font-size="18.6" fill="#111" stroke="#111" stroke-width="0.35">6</text>
<line x1="75.8" y1="672.1" x2="82.4" y2="672.1" stroke="#222" stroke-width="1.4"/>
<text x="66.8" y="678.2" text-anchor="end" font-size="18.6" fill="#111" stroke="#111" stroke-width="0.35">4</text>
<line x1="75.8" y1="724.3" x2="82.4" y2="724.3" stroke="#222" stroke-width="1.4"/>
<text x="66.8" y="731.4" text-anchor="end" font-size="18.6" fill="#e0101a" stroke="#e0101a" stroke-width="0.35">2</text>
<text x="66.8" y="780.5" text-anchor="end" font-size="18.6" fill="#111" stroke="#111" stroke-width="0.35">0</text>
<line x1="82.3" y1="776.5" x2="82.3" y2="781.2" stroke="#222" stroke-width="1.4"/>
<text x="82.9" y="803.6" text-anchor="middle" font-size="18.6" fill="#111" stroke="#111" stroke-width="0.35">0</text>
<line x1="247.6" y1="776.5" x2="247.6" y2="781.2" stroke="#222" stroke-width="1.4"/>
<text x="249.6" y="803.6" text-anchor="middle" font-size="18.6" fill="#111" stroke="#111" stroke-width="0.35">50</text>
<line x1="415.6" y1="776.5" x2="415.6" y2="781.2" stroke="#222" stroke-width="1.4"/>
<text x="417.2" y="803.6" text-anchor="middle" font-size="18.6" fill="#111" stroke="#111" stroke-width="0.35">100</text>
<line x1="583.4" y1="776.5" x2="583.4" y2="781.2" stroke="#222" stroke-width="1.4"/>
<text x="584.8" y="803.6" text-anchor="middle" font-size="18.6" fill="#111" stroke="#111" stroke-width="0.35">150</text>
<text x="366.8" y="832" text-anchor="middle" font-size="18.9" fill="#111" stroke="#111" stroke-width="0.35">Downstream distance (km)</text>
<text transform="translate(38.4,622) rotate(-90)" text-anchor="middle" font-size="18.7" fill="#111" stroke="#111" stroke-width="0.35">SL/K</text>
<text x="574.2" y="630.2" font-size="26.4" letter-spacing="1.5" fill="#dc141e" stroke="#dc141e" stroke-width="0.3">(b)</text>
</g></svg>
</body></html>
